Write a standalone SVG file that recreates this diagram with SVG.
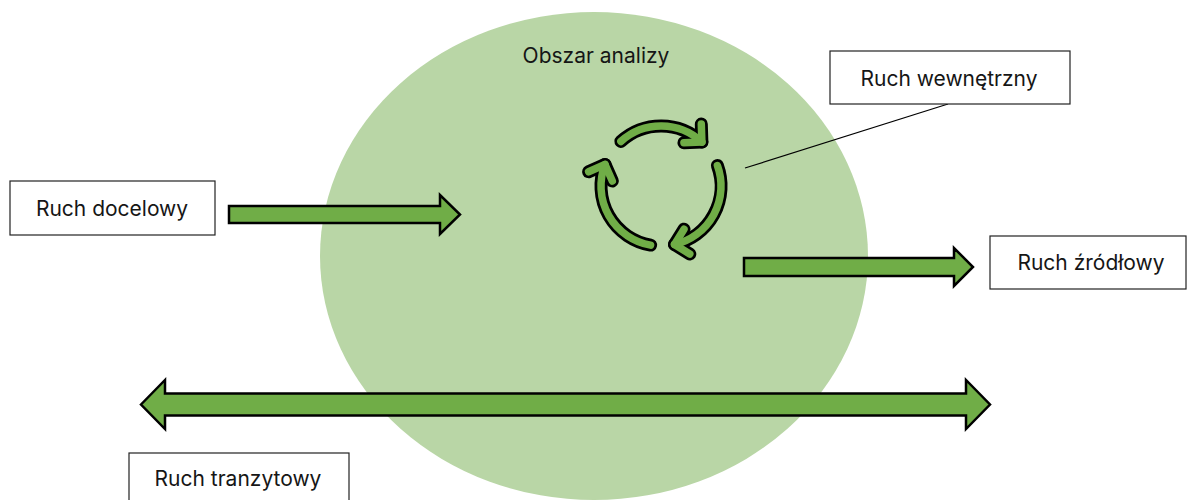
<svg xmlns="http://www.w3.org/2000/svg" width="1187" height="500" viewBox="0 0 1187 500">
  <style>
    .label { font-family: Inter, "Noto Sans", "Liberation Sans", sans-serif; font-size: 21px; fill: #161616; text-anchor: middle; }
    .box { fill: #ffffff; stroke: #222222; stroke-width: 1.2; }
    .flow { fill: #70AD47; stroke: #000000; stroke-width: 2.5; stroke-linejoin: miter; }
    .cycle-edge { fill: none; stroke: #000000; stroke-width: 13; stroke-linecap: round; stroke-linejoin: round; }
    .cycle-core { fill: none; stroke: #70AD47; stroke-width: 7.5; stroke-linecap: round; stroke-linejoin: round; }
    .leader { stroke: #000000; stroke-width: 1.2; fill: none; }
  </style>
  <defs>
    <!-- three clockwise arcs, each ending in a chevron -->
    <g id="cycle-shape">
      <path d="M620.9,141.4 A60,60 0 0 1 701.9,142.1"/>
      <path d="M701.3,124.1 L701.9,142.1 L683.9,142.7"/>
      <path d="M717.4,165.5 A60,60 0 0 1 674.5,244.5"/>
      <path d="M684.0,229.2 L674.5,244.5 L689.8,254.0"/>
      <path d="M650.6,245.1 A60,60 0 0 1 605.0,164.5"/>
      <path d="M588.6,171.8 L605.0,164.5 L612.3,181.0"/>
    </g>
  </defs>

  <rect width="1187" height="500" fill="#ffffff"/>

  <!-- study area -->
  <g id="area">
    <ellipse cx="594" cy="256" rx="274" ry="244" fill="#B9D6A6"/>
    <text class="label" x="596" y="63">Obszar analizy</text>
  </g>

  <!-- internal traffic cycle icon -->
  <g id="cycle">
    <use href="#cycle-shape" class="cycle-edge"/>
    <use href="#cycle-shape" class="cycle-core"/>
  </g>

  <!-- connectors -->
  <g id="connectors">
    <line class="leader" x1="948" y1="104" x2="745" y2="168"/>
    <polygon class="flow" points="229,206 440,206 440,195 460,214.5 440,234 440,223 229,223"/>
    <polygon class="flow" points="744,258 954,258 954,248 973,267 954,286 954,276 744,276"/>
    <polygon class="flow" points="141,404.5 165,380 165,393.5 966,393.5 966,380 990,404.5 966,429 966,415.5 165,415.5 165,429"/>
  </g>

  <g id="node-docelowy">
    <rect class="box" x="10" y="181" width="205" height="54"/>
    <text class="label" x="112" y="216">Ruch docelowy</text>
  </g>

  <g id="node-wewnetrzny">
    <rect class="box" x="830" y="51" width="240" height="53"/>
    <text class="label" x="949" y="86">Ruch wewnętrzny</text>
  </g>

  <g id="node-zrodlowy">
    <rect class="box" x="990" y="236" width="196" height="53"/>
    <text class="label" x="1091" y="270">Ruch źródłowy</text>
  </g>

  <g id="node-tranzytowy">
    <rect class="box" x="129" y="453" width="220" height="60"/>
    <text class="label" x="238" y="486">Ruch tranzytowy</text>
  </g>
</svg>
